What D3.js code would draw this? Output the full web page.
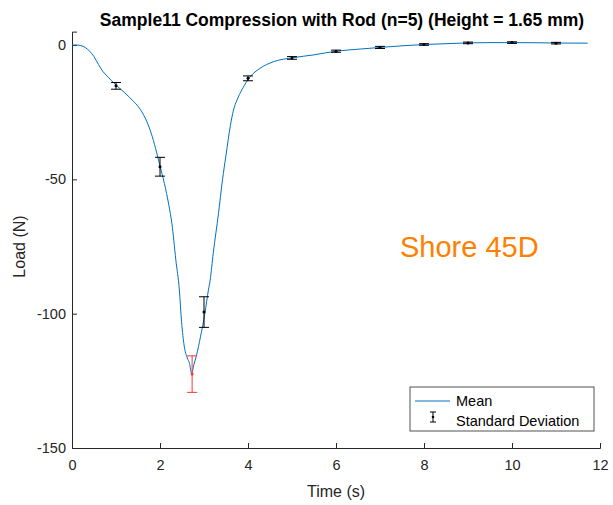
<!DOCTYPE html>
<html>
<head>
<meta charset="utf-8">
<script src="https://cdn.jsdelivr.net/npm/d3@7"></script>
<style>
  html, body { margin: 0; padding: 0; background: #fff; }
  svg { display: block; font-family: "Liberation Sans", Arial, Helvetica, sans-serif; }
</style>
</head>
<body>
<svg id="chart" width="613" height="505"></svg>
<script>
// Mean load curve (time in s, load in N)
const meanTime = [0, 0.1, 0.2, 0.3, 0.4, 0.5, 0.6, 0.7, 0.8, 0.9, 1.0, 1.2, 1.4, 1.55, 1.7, 1.8, 1.9, 2.0, 2.1, 2.2, 2.27, 2.36, 2.44, 2.49, 2.55, 2.62, 2.67, 2.72, 2.77, 2.83, 2.92, 3.02, 3.10, 3.14, 3.21, 3.33, 3.42, 3.5, 3.6, 3.67, 3.75, 3.86, 4.05, 4.27, 4.58, 5.03, 5.48, 6.0, 6.55, 7.0, 7.5, 8.0, 8.5, 9.0, 9.5, 10.0, 10.5, 11.0, 11.72];
const meanLoad = [0, 0, -0.2, -0.9, -2.3, -4.3, -7.2, -9.8, -11.6, -13.3, -14.9, -17.8, -21.0, -23.9, -28.5, -32.8, -38.5, -45.0, -51.5, -59.5, -66.4, -80, -91.2, -103, -112, -116.5, -118.5, -122.3, -119, -115.5, -108.6, -99.9, -91.2, -87.5, -77.5, -62.6, -50.2, -41, -30, -24.2, -20.5, -16.7, -11.8, -8.7, -6.2, -4.7, -3.7, -2.3, -1.5, -0.9, -0.3, 0.2, 0.5, 0.8, 0.9, 0.9, 0.85, 0.75, 0.7];

// Standard deviation markers
const sdTime = [1, 2, 2.73, 3, 4, 5, 6, 7, 8, 9, 10, 11];
const sdMean = [-15.2, -45.3, -122.5, -99.4, -12.4, -4.8, -2.3, -0.9, 0.2, 0.8, 0.9, 0.7];
const sdValue = [1.25, 3.5, 6.8, 5.7, 0.9, 0.5, 0.4, 0.4, 0.3, 0.3, 0.3, 0.3];
const sdPeak = 2; // index of the peak marker, drawn in red

const xTicks = [0, 2, 4, 6, 8, 10, 12];
const yTicks = [0, -50, -100, -150];

const titleText = "Sample11 Compression with Rod (n=5) (Height = 1.65 mm)";
const xLabel = "Time (s)";
const yLabel = "Load (N)";
const noteText = "Shore 45D";
const legendLabels = ["Mean", "Standard Deviation"];

const svg = d3.select("#chart");
const W = 613, H = 505;
const margin = { left: 72, right: 13, top: 31.6, bottom: 57 };
const iw = W - margin.left - margin.right;
const ih = H - margin.top - margin.bottom;
const axisColor = "#262626";

const x = d3.scaleLinear().domain([0, 12]).range([0, iw]);
const y = d3.scaleLinear().domain([-150, 5]).range([ih, 0]);

const g = svg.append("g").attr("transform", `translate(${margin.left},${margin.top})`);

// Axes with inward ticks
const xAxis = g.append("g").attr("transform", `translate(0,${ih})`)
  .call(d3.axisBottom(x).tickValues(xTicks).tickSize(-5).tickPadding(9).tickFormat(d3.format("d")));
const yAxis = g.append("g")
  .call(d3.axisLeft(y).tickValues(yTicks).tickSize(-5).tickPadding(6).tickFormat(d => d3.format("d")(d).replace("−", "-")));
[xAxis, yAxis].forEach(a => {
  a.select(".domain").attr("stroke", axisColor).attr("stroke-width", 1);
  a.selectAll(".tick line").attr("stroke", axisColor);
  a.selectAll(".tick text").attr("fill", axisColor).style("font-size", "14.5px");
});
xAxis.selectAll(".tick text").attr("dy", "0.9em");

// Mean curve
const pts = meanTime.map((t, i) => [t, meanLoad[i]]);
g.append("path")
  .datum(pts)
  .attr("fill", "none")
  .attr("stroke", "#0072BD")
  .attr("stroke-width", 1)
  .attr("d", d3.line().x(d => x(d[0])).y(d => y(d[1])).curve(d3.curveMonotoneX));

// Error bars
const capHalf = 5;
const bars = g.append("g").selectAll("g").data(sdTime.map((t, i) => ({ t, m: sdMean[i], s: sdValue[i], peak: i === sdPeak })))
  .join("g")
  .attr("stroke", d => d.peak ? "#FF3333" : "#000")
  .attr("fill", d => d.peak ? "#FF3333" : "#000");
bars.append("line")
  .attr("x1", d => x(d.t)).attr("x2", d => x(d.t))
  .attr("y1", d => y(d.m + d.s)).attr("y2", d => y(d.m - d.s));
bars.append("line")
  .attr("x1", d => x(d.t) - capHalf).attr("x2", d => x(d.t) + capHalf)
  .attr("y1", d => y(d.m + d.s)).attr("y2", d => y(d.m + d.s));
bars.append("line")
  .attr("x1", d => x(d.t) - capHalf).attr("x2", d => x(d.t) + capHalf)
  .attr("y1", d => y(d.m - d.s)).attr("y2", d => y(d.m - d.s));
bars.append("circle")
  .attr("cx", d => x(d.t)).attr("cy", d => y(d.m)).attr("r", 1.5).attr("stroke", "none");

// Title and axis labels
svg.append("text").attr("x", 342).attr("y", 26)
  .attr("text-anchor", "middle").attr("font-weight", "bold").style("font-size", "17.5px").attr("fill", "#000")
  .text(titleText);
svg.append("text").attr("x", margin.left + iw / 2).attr("y", 497)
  .attr("text-anchor", "middle").style("font-size", "16px").attr("fill", axisColor).text(xLabel);
svg.append("text").attr("transform", `translate(25,${margin.top + y(-75)}) rotate(-90)`)
  .attr("text-anchor", "middle").style("font-size", "16px").attr("fill", axisColor).text(yLabel);

// Annotation
svg.append("text").attr("x", 400).attr("y", 257).style("font-size", "29px").attr("fill", "#FF8000").text(noteText);

// Legend
const lg = svg.append("g").attr("transform", "translate(410,387)");
lg.append("rect").attr("width", 184).attr("height", 44).attr("fill", "#fff").attr("stroke", axisColor).attr("stroke-width", 0.8);
lg.append("line").attr("x1", 5).attr("x2", 40).attr("y1", 14).attr("y2", 14).attr("stroke", "#0072BD");
const ic = lg.append("g").attr("stroke", "#000");
ic.append("line").attr("x1", 23).attr("x2", 23).attr("y1", 25).attr("y2", 35);
ic.append("line").attr("x1", 20).attr("x2", 26).attr("y1", 25).attr("y2", 25);
ic.append("line").attr("x1", 20).attr("x2", 26).attr("y1", 35).attr("y2", 35);
ic.append("circle").attr("cx", 23).attr("cy", 30).attr("r", 1.3).attr("fill", "#000").attr("stroke", "none");
lg.selectAll("text.lab").data(legendLabels).join("text").attr("class", "lab")
  .attr("x", 46).attr("y", (d, i) => 19 + i * 20).style("font-size", "14.5px").attr("fill", "#000").text(d => d);
</script>
</body>
</html>
